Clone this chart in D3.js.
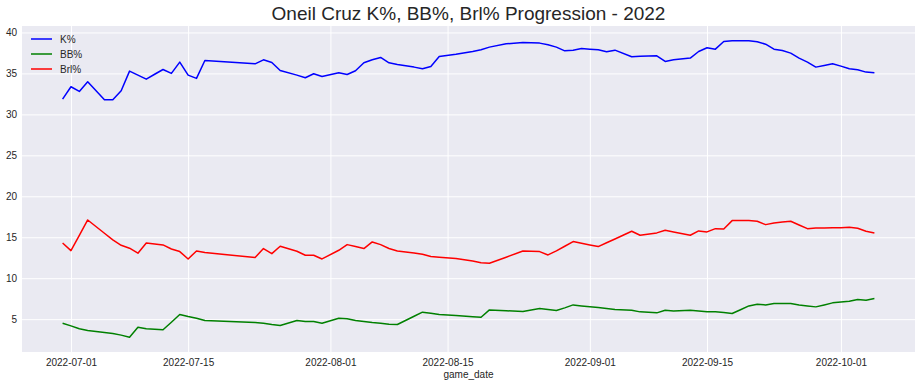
<!DOCTYPE html>
<meta charset="utf-8">
<style>
body { margin: 0; background: #fff; }
svg { font-family: "Liberation Sans", Arial, sans-serif; }
.tick text { fill: #262626; font-size: 10px; }
</style>
<svg width="921" height="387"></svg>
<script src="https://d3js.org/d3.v7.min.js"></script>
<script>

var dates = [
  "2022-06-30","2022-07-01","2022-07-02","2022-07-03","2022-07-05","2022-07-06","2022-07-07","2022-07-08",
  "2022-07-09","2022-07-10","2022-07-11","2022-07-12","2022-07-13","2022-07-14","2022-07-15","2022-07-16",
  "2022-07-17","2022-07-23","2022-07-24","2022-07-25","2022-07-26","2022-07-28","2022-07-29","2022-07-30",
  "2022-07-31","2022-08-02","2022-08-03","2022-08-04","2022-08-05","2022-08-06","2022-08-07","2022-08-08",
  "2022-08-09","2022-08-11","2022-08-12","2022-08-13","2022-08-14","2022-08-16","2022-08-18","2022-08-19",
  "2022-08-20","2022-08-22","2022-08-24","2022-08-26","2022-08-27","2022-08-28","2022-08-29","2022-08-30",
  "2022-08-31","2022-09-01","2022-09-02","2022-09-03","2022-09-04","2022-09-06","2022-09-07","2022-09-09",
  "2022-09-10","2022-09-11","2022-09-13","2022-09-14","2022-09-15","2022-09-16","2022-09-17","2022-09-18",
  "2022-09-19","2022-09-20","2022-09-21","2022-09-22","2022-09-23","2022-09-24","2022-09-25","2022-09-26",
  "2022-09-27","2022-09-28","2022-09-29","2022-09-30","2022-10-01","2022-10-02","2022-10-03","2022-10-04",
  "2022-10-05"
];

var kPct = [
  31.87,33.37,32.8,33.98,31.78,31.78,32.88,35.28,
  34.8,34.3,34.9,35.48,35.0,36.38,34.79,34.39,
  36.58,36.17,36.66,36.34,35.36,34.79,34.47,34.96,
  34.63,35.08,34.87,35.32,36.3,36.66,36.95,36.3,
  36.1,35.77,35.57,35.85,37.07,37.35,37.68,37.88,
  38.21,38.61,38.78,38.7,38.49,38.21,37.76,37.84,
  38.04,37.96,37.88,37.64,37.84,37.03,37.1,37.15,
  36.46,36.66,36.87,37.68,38.13,37.96,38.9,38.98,
  38.98,38.98,38.86,38.57,37.96,37.8,37.48,36.87,
  36.38,35.77,35.97,36.17,35.89,35.56,35.44,35.16,
  35.08
];

var bbPct = [
  4.51,4.18,3.82,3.61,3.37,3.25,3.05,2.8,
  4.02,3.82,3.78,3.7,4.63,5.57,5.32,5.12,
  4.83,4.59,4.51,4.35,4.22,4.83,4.71,4.71,
  4.51,5.12,5.04,4.83,4.71,4.59,4.51,4.39,
  4.35,5.36,5.85,5.73,5.57,5.46,5.3,5.24,
  6.13,6.03,5.93,6.3,6.17,6.05,6.38,6.74,
  6.62,6.52,6.42,6.3,6.17,6.09,5.89,5.77,
  6.09,6.01,6.09,5.99,5.89,5.89,5.8,5.69,
  6.15,6.62,6.83,6.74,6.9,6.9,6.9,6.74,
  6.62,6.5,6.74,6.99,7.09,7.19,7.39,7.31,
  7.52
];

var brlPct = [
  14.3,13.37,15.24,17.11,15.49,14.67,14.02,13.66,
  13.05,14.3,14.18,14.06,13.57,13.25,12.35,13.33,
  13.13,12.52,13.62,13.0,13.9,13.29,12.8,12.8,
  12.35,13.41,14.1,13.86,13.62,14.43,14.1,13.62,
  13.33,13.09,12.92,12.64,12.56,12.4,12.09,11.9,
  11.83,12.56,13.33,13.25,12.84,13.33,13.9,14.47,
  14.26,14.06,13.86,14.33,14.79,15.73,15.24,15.53,
  15.85,15.65,15.24,15.77,15.65,16.05,16.01,17.03,
  17.03,17.03,16.95,16.54,16.74,16.85,16.95,16.5,
  16.05,16.13,16.13,16.15,16.17,16.21,16.09,15.73,
  15.53
];

var seriesNames = ["K%", "BB%", "Brl%"];
var seriesColors = ["#0000ff", "#008000", "#ff0000"];
var xTickLabels = ["2022-07-01","2022-07-15","2022-08-01","2022-08-15","2022-09-01","2022-09-15","2022-10-01"];
var yTickValues = [5, 10, 15, 20, 25, 30, 35, 40];

var parse = d3.utcParse("%Y-%m-%d"),
    fmt = d3.utcFormat("%Y-%m-%d");

var svg = d3.select("svg");
var plotLeft = 22, plotRight = 915, plotTop = 26, plotBottom = 352;

var days = dates.map(parse);
var allSeries = [kPct, bbPct, brlPct];

// matplotlib style 5% margins
var xExt = d3.extent(days), xPad = (xExt[1] - xExt[0]) * 0.05;
var x = d3.scaleUtc()
    .domain([new Date(+xExt[0] - xPad), new Date(+xExt[1] + xPad)])
    .range([plotLeft, plotRight]);

var allVals = [].concat(kPct, bbPct, brlPct);
var yExt = d3.extent(allVals), yPad = (yExt[1] - yExt[0]) * 0.05;
var y = d3.scaleLinear()
    .domain([yExt[0] - yPad, yExt[1] + yPad])
    .range([plotBottom, plotTop]);

svg.append("rect")
    .attr("x", plotLeft).attr("y", plotTop)
    .attr("width", plotRight - plotLeft).attr("height", plotBottom - plotTop)
    .attr("fill", "#eaeaf2");

svg.append("g")
    .attr("transform", "translate(0," + plotBottom + ")")
    .call(d3.axisBottom(x).tickValues(xTickLabels.map(parse)).tickFormat(fmt)
      .tickSize(-(plotBottom - plotTop)).tickPadding(7));

svg.append("g")
    .attr("transform", "translate(" + plotLeft + ",0)")
    .call(d3.axisLeft(y).tickValues(yTickValues)
      .tickSize(-(plotRight - plotLeft)).tickPadding(5));

svg.selectAll(".domain").remove();
svg.selectAll(".tick line").attr("stroke", "#fff").attr("stroke-width", 1);

var line = d3.line()
    .x(function(d, i) { return x(days[i]); })
    .y(function(d) { return y(d); });

allSeries.forEach(function(s, i) {
  svg.append("path")
      .datum(s)
      .attr("fill", "none")
      .attr("stroke", seriesColors[i])
      .attr("stroke-width", 1.5)
      .attr("stroke-linejoin", "round")
      .attr("d", line);
});

// legend
var legend = svg.append("g");
seriesNames.forEach(function(name, i) {
  var yy = 39 + i * 15;
  legend.append("line")
      .attr("x1", 31).attr("x2", 52)
      .attr("y1", yy).attr("y2", yy)
      .attr("stroke", seriesColors[i]).attr("stroke-width", 1.5);
  legend.append("text")
      .attr("x", 60).attr("y", yy + 3.5)
      .attr("font-size", 10).attr("fill", "#262626")
      .text(name);
});

svg.append("text")
    .attr("x", (plotLeft + plotRight) / 2).attr("y", 20)
    .attr("text-anchor", "middle")
    .attr("font-size", 19).attr("fill", "#262626")
    .text("Oneil Cruz K%, BB%, Brl% Progression - 2022");

svg.append("text")
    .attr("x", (plotLeft + plotRight) / 2).attr("y", 378)
    .attr("text-anchor", "middle")
    .attr("font-size", 10).attr("fill", "#262626")
    .text("game_date");

</script>
